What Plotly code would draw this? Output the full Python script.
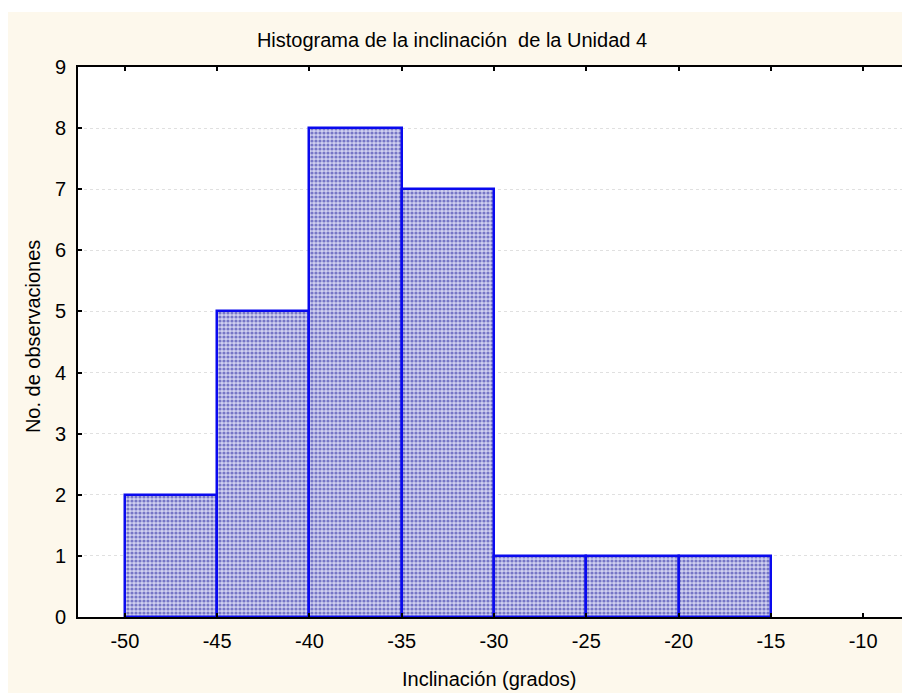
import plotly.graph_objects as go

bin_starts = [-50, -45, -40, -35, -30, -25, -20]
bin_width = 5
counts = [2, 5, 8, 7, 1, 1, 1]
x_ticks = [-50, -45, -40, -35, -30, -25, -20, -15, -10]
y_ticks = [0, 1, 2, 3, 4, 5, 6, 7, 8, 9]

title_text = "Histograma de la inclinación\u00a0 de la Unidad 4"
x_title = "Inclinación (grados)"
y_title = "No. de observaciones"

# page body adds an 8px offset; work in reference pixels minus 8
OFF = 8
W, H = 910 - OFF, 693 - OFF
L = 78 - OFF
T = 67 - OFF
bottom_axis = 617 - OFF
right_edge = 910 - OFF
R = W - right_edge
B = H - bottom_axis
pw, ph = W - L - R, H - T - B

def px_x(p):
    return (p - OFF - L) / pw

def px_y(p):
    return 1 - (p - OFF - T) / ph

cream = "#fdf8ec"
font = "Liberation Sans, Arial, sans-serif"
fs = 20

fig = go.Figure()
fig.add_trace(go.Bar(
    x=[s + bin_width / 2 for s in bin_starts],
    y=counts,
    width=[bin_width] * len(counts),
    marker=dict(
        color="#d0d0f0",
        line=dict(color="#0a0aee", width=2.5),
        pattern=dict(shape=".", fgcolor="#1c1c9c", bgcolor="#d0d0f0", size=4, solidity=0.5),
    ),
    showlegend=False,
))

fig.update_layout(
    width=W, height=H,
    margin=dict(l=L, r=R, t=T, b=B),
    paper_bgcolor=cream,
    plot_bgcolor="white",
    font=dict(family=font, size=fs, color="black"),
    title=dict(text=title_text, x=(452 - OFF) / W, xref="container", xanchor="center",
               y=1 - (40 - OFF) / H, yref="container", yanchor="middle",
               font=dict(family=font, size=fs, color="black")),
    bargap=0,
    xaxis=dict(range=[-52.54, -7.57], tickvals=x_ticks, ticktext=[str(v) for v in x_ticks],
               showline=True, linecolor="black", linewidth=2, mirror="ticks",
               ticks="inside", ticklen=4, tickwidth=2, tickcolor="black",
               ticklabelstandoff=5,
               showgrid=False, zeroline=False, tickfont=dict(size=fs)),
    yaxis=dict(range=[0, 9], tickvals=y_ticks,
               showline=True, linecolor="black", linewidth=2, mirror="ticks",
               ticks="inside", ticklen=4, tickwidth=2, tickcolor="black",
               ticklabelstandoff=6,
               showgrid=True, gridcolor="#e0e0e0", gridwidth=1, griddash="dot",
               zeroline=False, tickfont=dict(size=fs)),
    shapes=[
        dict(type="rect", xref="paper", yref="paper", x0=px_x(0), x1=px_x(W + 20), y0=px_y(12), y1=px_y(0),
             fillcolor="white", line=dict(width=0), layer="below"),
    ],
    annotations=[
        dict(text=x_title, xref="paper", yref="paper", x=px_x(490), y=px_y(679),
             xanchor="center", yanchor="middle", showarrow=False, font=dict(size=fs)),
        dict(text=y_title, xref="paper", yref="paper", x=px_x(33), y=px_y(337),
             xanchor="center", yanchor="middle", textangle=-90, showarrow=False, font=dict(size=fs)),
    ],
)

fig.write_html("out.html")
